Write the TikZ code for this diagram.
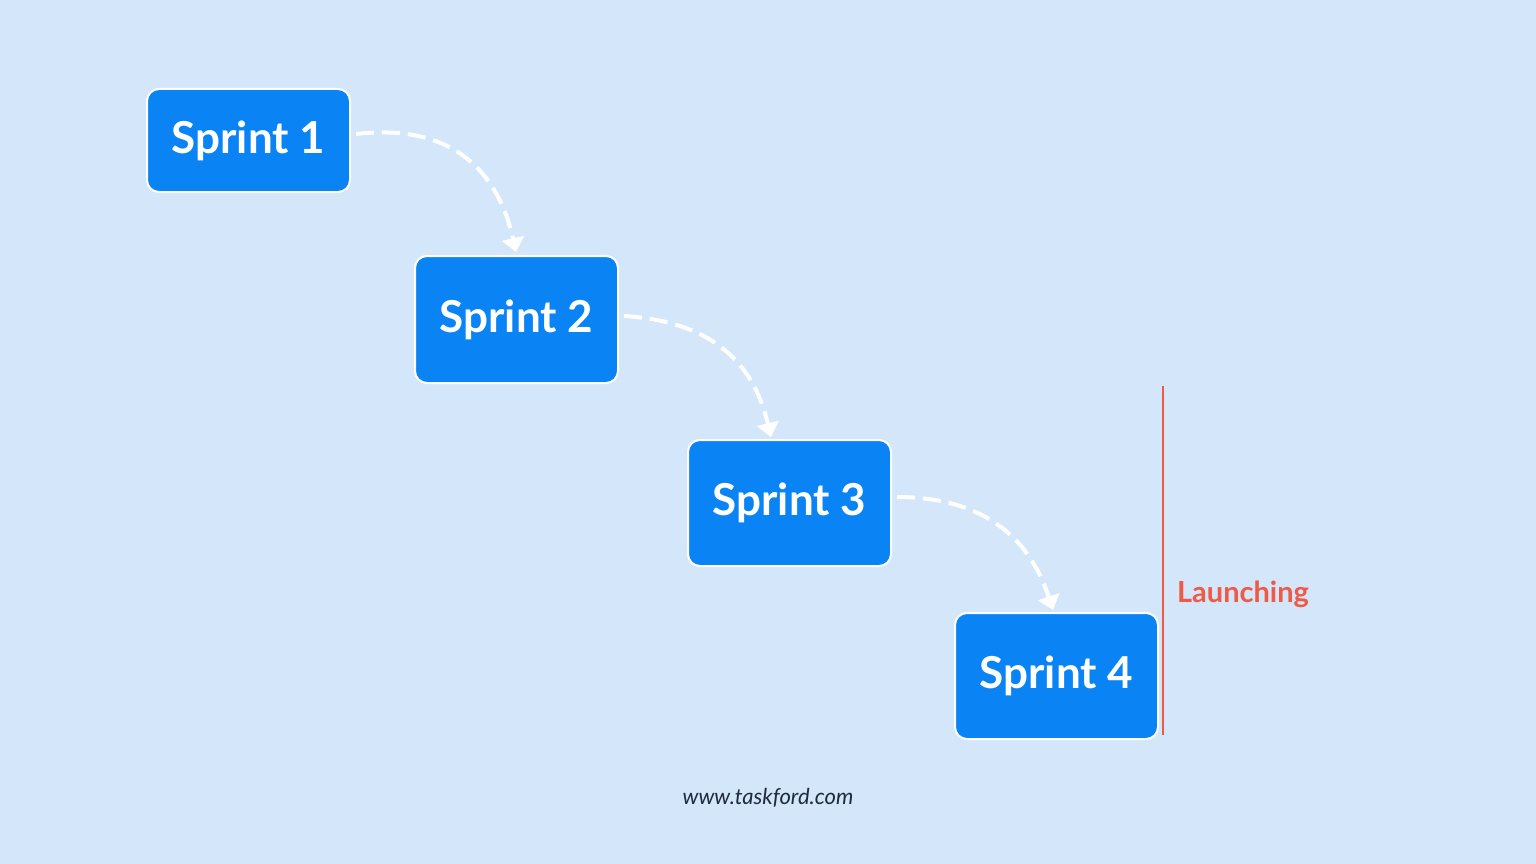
\documentclass[tikz,border=0pt]{standalone}
\usepackage{fontspec}
\setmainfont{Lato}
\usetikzlibrary{arrows.meta}
\definecolor{bg}{HTML}{D3E6FA}
\definecolor{boxc}{HTML}{0A84F5}
\definecolor{redc}{HTML}{EE5A45}
\definecolor{txt}{HTML}{1F2A3A}
\begin{document}
\begin{tikzpicture}[x=1pt,y=-1pt,
  sprint/.style={draw=white,line width=2pt,fill=boxc,rounded corners=12pt,minimum width=203pt,text=white,font=\fontsize{44}{44}\selectfont\bfseries},
  flow/.style={white,line width=4pt,dash pattern=on 18pt off 8pt,-{Triangle[width=22pt,length=14pt]}}]
\fill[bg] (0,0) rectangle (1536,864);
\useasboundingbox (0,0) rectangle (1536,864);
\node[sprint,minimum height=103pt] (s1) at (248.5,140.5) {Sprint 1};
\node[sprint,minimum height=127pt] (s2) at (516.5,319.5) {Sprint 2};
\node[sprint,minimum height=126pt] (s3) at (789.5,503) {Sprint 3};
\node[sprint,minimum height=126pt] (s4) at (1056.5,676) {Sprint 4};
\coordinate (a1) at (356,134); \coordinate (b1) at (516,252);
\coordinate (a2) at (624,316); \coordinate (b2) at (771,437);
\coordinate (a3) at (897,497); \coordinate (b3) at (1053,610);
\draw[flow] (a1) .. controls (460,122) and (500,180) .. (b1);
\draw[flow] (a2) .. controls (720,322) and (755,370) .. (b2);
\draw[flow] (a3) .. controls (1000,497) and (1035,555) .. (b3);
\coordinate (l1) at (1163,386); \coordinate (l2) at (1163,735);
\draw[redc,line width=1.5pt] (l1) -- (l2);
\node[text=redc,font=\fontsize{29}{29}\selectfont\bfseries] (lau) at (1243,594) {Launching};
\node[text=txt,font=\fontsize{22}{22}\selectfont\itshape] (url) at (768,798) {www.taskford.com};
\end{tikzpicture}
\end{document}
